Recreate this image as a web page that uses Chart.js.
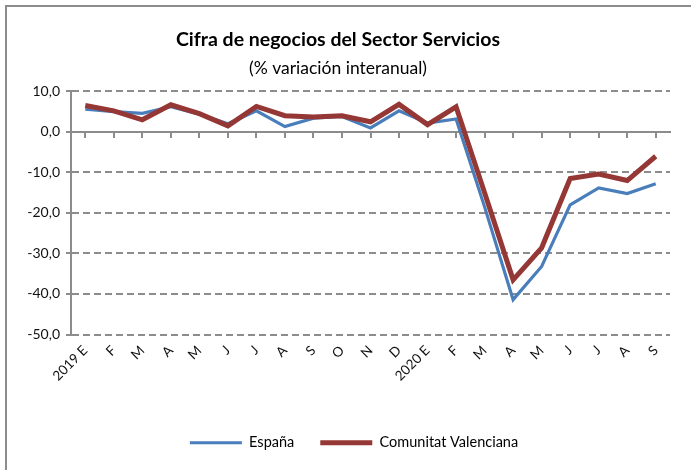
<!DOCTYPE html>
<html>
<head>
<meta charset="utf-8">
<script src="https://cdn.jsdelivr.net/npm/chart.js@4/dist/chart.umd.min.js"></script>
<style>
  html, body { margin: 0; padding: 0; background: #fff; }
  #wrap { position: relative; width: 691px; height: 470px; overflow: hidden; }
  #frame { position: absolute; left: 5px; top: 5px; width: 700px; height: 480px;
           border-left: 2px solid #8c8c8c; border-top: 2px solid #8c8c8c; box-sizing: border-box; }
  canvas { position: absolute; left: 0; top: 0; }
</style>
</head>
<body>
<div id="wrap">
  <div id="frame"></div>
  <canvas id="c" width="691" height="470"></canvas>
</div>
<script>
const categories = ['2019 E','F','M','A','M','J','J','A','S','O','N','D','2020 E','F','M','A','M','J','J','A','S'];
const espana     = [5.6, 5.0, 4.6, 6.2, 4.4, 2.0, 5.2, 1.3, 3.4, 3.8, 1.0, 5.2, 2.2, 3.2, -18.5, -41.4, -33.2, -18.0, -13.8, -15.2, -12.8];
const valencia   = [6.5, 5.2, 3.0, 6.7, 4.5, 1.5, 6.3, 4.0, 3.7, 4.0, 2.5, 6.8, 1.8, 6.2, -15.0, -36.5, -28.6, -11.5, -10.4, -12.0, -6.0];
const seriesNames = ['España', 'Comunitat Valenciana'];
const titleText = 'Cifra de negocios del Sector Servicios';
const subtitleText = '(% variación interanual)';

const FONT = "Lato, 'Open Sans', 'Liberation Sans', sans-serif";
const GRID = '#8c8c8c';

new Chart(document.getElementById('c'), {
  type: 'line',
  data: {
    labels: categories,
    datasets: [
      { label: seriesNames[0], data: espana, borderColor: '#4a7ebb', backgroundColor: '#4a7ebb',
        borderWidth: 3.2, pointRadius: 0, tension: 0, xAxisID: 'x', order: 2 },
      { label: seriesNames[1], data: valencia, borderColor: '#953735', backgroundColor: '#953735',
        borderWidth: 5, pointRadius: 0, tension: 0, xAxisID: 'x', order: 1 }
    ]
  },
  options: {
    responsive: false,
    animation: false,
    devicePixelRatio: 1,
    layout: { padding: { left: 6, right: 21, top: 0, bottom: 10 } },
    plugins: {
      title: { display: true, text: titleText, color: '#000',
               font: { family: FONT, size: 19.5, weight: 'bold' }, padding: { top: 28, bottom: 3 } },
      subtitle: { display: true, text: subtitleText, color: '#000',
               font: { family: FONT, size: 17.5, weight: 'normal' }, padding: { top: 3, bottom: 13 } },
      legend: { position: 'bottom',
        labels: { usePointStyle: true, pointStyle: 'line', pointStyleWidth: 52, boxHeight: 13,
                  padding: 26, color: '#000', font: { family: FONT, size: 14.5 },
                  sort: (a, b) => a.datasetIndex - b.datasetIndex } },
      tooltip: { enabled: false }
    },
    scales: {
      x: {
        type: 'category', position: 'bottom', offset: true,
        grid: { display: false, drawTicks: false },
        border: { display: false },
        ticks: { color: '#111', font: { family: FONT, size: 13.5 }, minRotation: 45, maxRotation: 45,
                 autoSkip: false, padding: 8 },
        afterFit: s => { s.height = 75; }
      },
      x2: {
        type: 'category', position: { y: 0 }, offset: true,
        grid: { display: true, drawOnChartArea: false, drawTicks: true, tickLength: 5, color: GRID, lineWidth: 2 },
        border: { display: true, color: GRID, width: 2 },
        ticks: { display: false }
      },
      y: {
        min: -50, max: 10,
        ticks: { stepSize: 10, color: '#111', font: { family: FONT, size: 14 }, padding: 6,
                 callback: v => v.toFixed(1).replace('.', ',') },
        grid: { color: GRID, lineWidth: 2, tickLength: 5, tickBorderDash: [], tickColor: GRID },
        border: { display: true, color: GRID, width: 2, dash: [7, 4] },
        afterFit: s => { s.width = 65; }
      }
    }
  },
  plugins: [{
    id: 'legendShift',
    afterLayout(chart) {
      if (chart.legend) { chart.legend.left += 16; chart.legend.right += 16; }
    }
  }]
});
</script>
</body>
</html>
